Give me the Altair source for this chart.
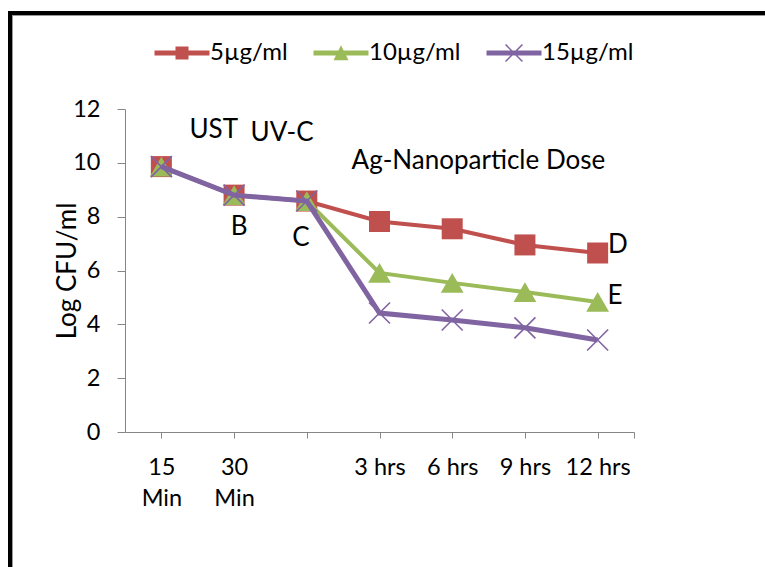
import altair as alt
import pandas as pd

# ---- data ----
categories = ["15 Min", "30 Min", "", "3 hrs", "6 hrs", "9 hrs", "12 hrs"]
cat_lines = [["15", "Min"], ["30", "Min"], [""], ["3 hrs"], ["6 hrs"], ["9 hrs"], ["12 hrs"]]
series_names = ["5µg/ml", "10µg/ml", "15µg/ml"]
values_5 = [9.86, 8.80, 8.58, 7.82, 7.55, 6.95, 6.65]
values_10 = [9.86, 8.80, 8.58, 5.91, 5.54, 5.20, 4.83]
values_15 = [9.86, 8.80, 8.58, 4.42, 4.16, 3.87, 3.42]
colors = ["#C0504D", "#9BBB59", "#8064A2"]
y_ticks = [0, 2, 4, 6, 8, 10, 12]

ann_text = ["UST", "UV-C", "Ag-Nanoparticle Dose", "B", "C", "D", "E"]
ann_x = [1.72, 2.66, 5.36, 2.07, 2.92, 7.28, 7.24]
ann_y = [11.22, 11.11, 10.07, 7.62, 7.21, 6.95, 5.05]

FONT = "Lato"

rows = []
for name, vals in zip(series_names, [values_5, values_10, values_15]):
    for i, v in enumerate(vals):
        rows.append({"idx": i + 1, "category": categories[i], "series": name, "value": v})
df = pd.DataFrame(rows)
ann_df = pd.DataFrame({"text": ann_text, "x": ann_x, "y": ann_y})

# x-axis label expression (multi-line labels)
def js_arr(lines):
    return "[" + ",".join("'" + s + "'" for s in lines) + "]"

expr = "''"
for i in reversed(range(len(cat_lines))):
    expr = f"datum.value == {i + 1} ? {js_arr(cat_lines[i])} : ({expr})"

x_axis = alt.Axis(
    values=list(range(1, len(categories) + 1)) + [len(categories) + 0.5],
    labelExpr=expr, title=None, grid=False, tickSize=6, labelPadding=17,
    labelFont=FONT, labelFontSize=23.5, labelLineHeight=31, labelColor="#000000",
    labelAlign="center", labelBaseline="top", labelFlush=False, labelOverlap=False,
    domainColor="#868686", tickColor="#868686",
)
y_axis = alt.Axis(
    values=y_ticks, title="Log CFU/ml", grid=False, tickSize=8, labelPadding=17,
    labelFont=FONT, labelFontSize=23.5, labelColor="#000000",
    domainColor="#868686", tickColor="#868686",
    titleFont=FONT, titleFontSize=26, titleFontWeight="normal", titleColor="#000000",
    titleX=-50, titleY=161.5, titleAngle=270, titleAlign="center", titleBaseline="alphabetic",
)

X = alt.X("idx:Q", scale=alt.Scale(domain=[0.5, len(categories) + 0.5], nice=False, zero=False), axis=x_axis)
Y = alt.Y("value:Q", scale=alt.Scale(domain=[0, 12], nice=False), axis=y_axis)
color_scale = alt.Scale(domain=series_names, range=colors)

# legend symbols: line with marker (custom paths)
legend_paths = [
    "M-4.23,-0.385H4.23V0.385H-4.23Z M-1,-1H1V1H-1Z",
    "M-4.23,-0.385H4.23V0.385H-4.23Z M0,-1.2L1.15,1.1L-1.15,1.1Z",
    "M-4.23,-0.385H4.23V0.385H-4.23Z "
    "M-1.215,-1.385L1.385,1.215L1.215,1.385L-1.385,-1.215Z "
    "M-1.215,1.385L-1.385,1.215L1.215,-1.385L1.385,-1.215Z",
]
leg = alt.Legend(
    title=None, orient="none", legendX=24, legendY=-68, direction="horizontal",
    symbolSize=169, symbolOffset=21, labelOffset=16, columnPadding=20,
    symbolStrokeWidth=0, symbolOpacity=1, padding=0,
    labelFont=FONT, labelFontSize=24, labelColor="#000000", labelLimit=300,
)

base = alt.Chart(df)

marker_specs = [
    dict(shape="square", size=441, filled=True, strokeWidth=0),
    dict(shape="triangle-up", size=520, filled=True, strokeWidth=0),
    dict(shape="M-1,-1L1,1M-1,1L1,-1", size=441, filled=False, strokeWidth=1.6),
]
line_widths = [4, 4, 5]

layers = []
# legend-only layer (no rows drawn; entries come from the scale domain)
legend_layer = base.transform_filter("false").mark_point(filled=True, opacity=1).encode(
    x=X, y=Y,
    color=alt.Color("series:N", scale=color_scale, legend=leg),
    shape=alt.Shape("series:N", scale=alt.Scale(domain=series_names, range=legend_paths), legend=leg),
)
layers.append(legend_layer)

C = alt.Color("series:N", scale=color_scale, legend=None)
for name, spec, lw in zip(series_names, marker_specs, line_widths):
    sub = base.transform_filter(alt.datum.series == name)
    layers.append(sub.mark_line(strokeWidth=lw).encode(x=X, y=Y, color=C))
    layers.append(sub.mark_point(opacity=1, **spec).encode(x=X, y=Y, color=C))

text_layer = alt.Chart(ann_df).mark_text(
    font=FONT, fontSize=26, align="center", baseline="middle", color="#000000"
).encode(x=alt.X("x:Q"), y=alt.Y("y:Q"), text="text:N")
layers.append(text_layer)

# outer frame (black border on top and left, as in the reference)
one = pd.DataFrame({"a": [0]})
frame = [
    alt.Chart(one).mark_rule(color="#000000", strokeWidth=4).encode(
        x=alt.value(-117), x2=alt.value(645), y=alt.value(-96)),
    alt.Chart(one).mark_rule(color="#000000", strokeWidth=4).encode(
        x=alt.value(-115), y=alt.value(-98), y2=alt.value(460)),
    alt.Chart(one).mark_rule(color="#9a9a9a", strokeWidth=1).encode(
        x=alt.value(-113), x2=alt.value(645), y=alt.value(-93.5)),
    alt.Chart(one).mark_rule(color="#9a9a9a", strokeWidth=1).encode(
        x=alt.value(-112.5), y=alt.value(-93.5), y2=alt.value(460)),
]

chart = alt.layer(*frame, *layers).properties(
    width=509, height=323,
    autosize=alt.AutoSizeParams(type="none"),
    padding={"left": 125, "top": 109, "right": 131, "bottom": 135},
    background="white",
).configure_view(stroke=None)

chart.save("out.html", embed_options={"renderer": "svg", "actions": False})
